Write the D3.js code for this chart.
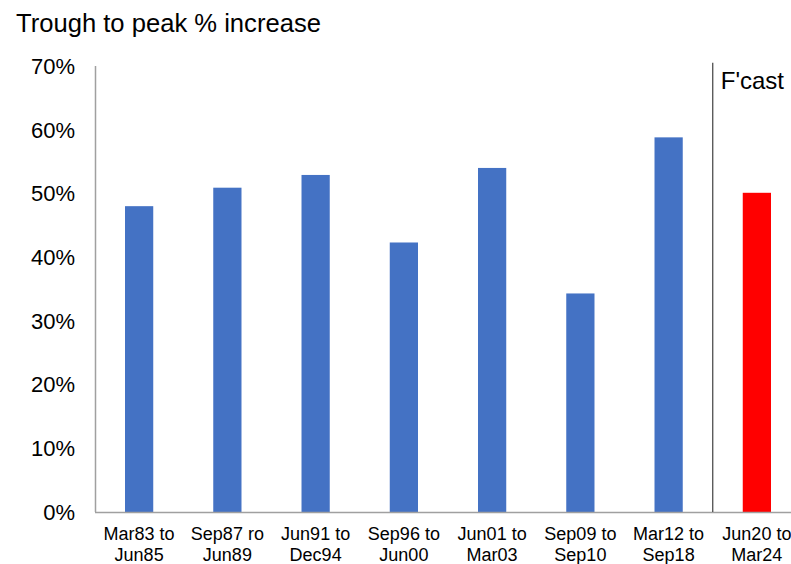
<!DOCTYPE html>
<html>
<head>
<meta charset="utf-8">
<script src="https://cdn.jsdelivr.net/npm/d3@7"></script>
<style>
  body { margin: 0; background: #fff; }
  text { font-family: Arial, "Liberation Sans", sans-serif; fill: #000; }
</style>
</head>
<body>
<script>
var periods = [
  ['Mar83 to', 'Jun85'],
  ['Sep87 ro', 'Jun89'],
  ['Jun91 to', 'Dec94'],
  ['Sep96 to', 'Jun00'],
  ['Jun01 to', 'Mar03'],
  ['Sep09 to', 'Sep10'],
  ['Mar12 to', 'Sep18'],
  ['Jun20 to', 'Mar24']
]
var increase = [48.0, 50.9, 52.9, 42.3, 54.0, 34.3, 58.8, 50.1]
var forecast = [false, false, false, false, false, false, false, true]
var yTicks = [0, 10, 20, 30, 40, 50, 60, 70]

var data = periods.map(function(p, i){
  return {key: i, label: p, value: increase[i], fcast: forecast[i]}
})

var width = 791, height = 564

var svg = d3.select('body').append('svg')
  .attr('width', width)
  .attr('height', height)

var x = d3.scaleBand()
  .domain(data.map(function(d){ return d.key }))
  .range([95, 801])
  .paddingInner(0.68)
  .paddingOuter(0.34)

var y = d3.scaleLinear().domain([0, 70]).range([512, 66])

// title
svg.append('text')
  .attr('x', 16).attr('y', 32)
  .style('font-size', '25.6px')
  .text('Trough to peak % increase')

// y labels
svg.append('g').selectAll('text')
  .data(yTicks)
  .join('text')
  .attr('x', 75)
  .attr('y', function(d){ return y(d) })
  .attr('dy', '0.36em')
  .attr('text-anchor', 'end')
  .style('font-size', '22px')
  .text(function(d){ return d + '%' })

// bars
svg.append('g').selectAll('rect')
  .data(data)
  .join('rect')
  .attr('x', function(d){ return x(d.key) })
  .attr('width', x.bandwidth())
  .attr('y', function(d){ return y(d.value) })
  .attr('height', function(d){ return y(0) - y(d.value) })
  .attr('fill', function(d){ return d.fcast ? '#ff0000' : '#4472c4' })

// axes lines
svg.append('line')
  .attr('x1', 95.5).attr('x2', 95.5)
  .attr('y1', y(70)).attr('y2', y(0))
  .attr('stroke', '#a0a0a0').attr('stroke-width', 1.5)

svg.append('line')
  .attr('x1', 95).attr('x2', width)
  .attr('y1', y(0) + 0.5).attr('y2', y(0) + 0.5)
  .attr('stroke', '#a0a0a0').attr('stroke-width', 1.5)

// forecast divider
var lastKey = data[data.length - 1].key
var divX = x(lastKey) - (x.step() - x.bandwidth()) / 2
svg.append('line')
  .attr('x1', divX).attr('x2', divX)
  .attr('y1', y(70.5)).attr('y2', y(0))
  .attr('stroke', '#404040').attr('stroke-width', 1.2)

svg.append('text')
  .attr('x', divX + 8).attr('y', 89)
  .style('font-size', '24px')
  .text("F'cast")

// category labels
var cat = svg.append('g').selectAll('text')
  .data(data)
  .join('text')
  .attr('text-anchor', 'middle')
  .attr('x', function(d){ return x(d.key) + x.bandwidth() / 2 })
  .attr('y', 540)
  .style('font-size', '18px')

cat.append('tspan')
  .attr('x', function(d){ return x(d.key) + x.bandwidth() / 2 })
  .text(function(d){ return d.label[0] })

cat.append('tspan')
  .attr('x', function(d){ return x(d.key) + x.bandwidth() / 2 })
  .attr('dy', 21)
  .text(function(d){ return d.label[1] })
</script>
</body>
</html>
